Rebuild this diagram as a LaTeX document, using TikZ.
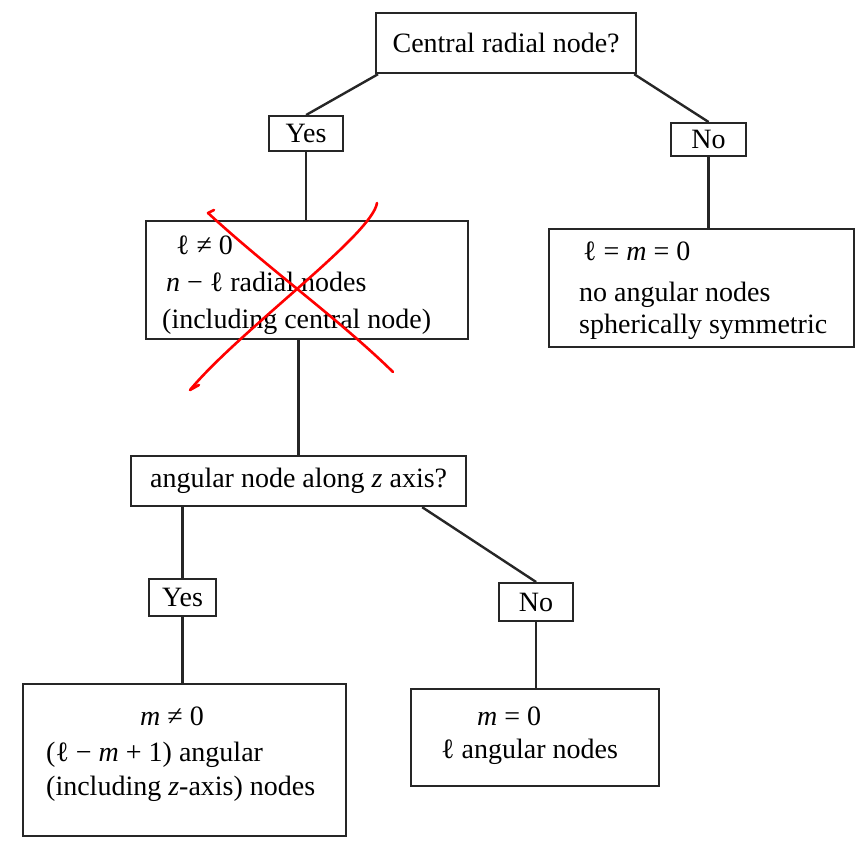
\documentclass[tikz,border=0pt]{standalone}
\usepackage{fontspec}
\setmainfont{Liberation Serif}
\begin{document}
\begin{tikzpicture}[x=1pt,y=-1pt,
  box/.style={draw=black!85,line width=2.2pt,inner sep=0pt,anchor=north west},
  lbl/.style={font=\fontsize{28}{36}\selectfont,inner sep=0pt},
  conn/.style={draw=black!85,line width=2.4pt},
  cross/.style={draw=red,line width=2.6pt,line cap=round,line join=round}]
\useasboundingbox (0,0) rectangle (855,841);
% boxes
\node[box,minimum width=260pt,minimum height=60pt] (top) at (375,12) {};
\node[lbl] (toptxt) at (top.center) {Central radial node?};
\node[box,minimum width=74pt,minimum height=35pt] (yes) at (268,115) {};
\node[lbl] (yestxt) at (yes.center) {Yes};
\node[box,minimum width=75pt,minimum height=33pt] (no) at (670,122) {};
\node[lbl] (notxt) at (no.center) {No};
\node[box,minimum width=322pt,minimum height=118pt] (b1) at (145,220) {};
\node[lbl,anchor=mid west] (b1a) at (176,252) {ℓ ≠ 0};
\node[lbl,anchor=mid west] (b1b) at (166,289) {\textit{n} − ℓ radial nodes};
\node[lbl,anchor=mid west] (b1c) at (162,326) {(including central node)};
\node[box,minimum width=305pt,minimum height=118pt] (b2) at (548,228) {};
\node[lbl,anchor=mid west] (b2a) at (583,258) {ℓ = \textit{m} = 0};
\node[lbl,anchor=mid west] (b2b) at (579,299) {no angular nodes};
\node[lbl,anchor=mid west] (b2c) at (579,331) {spherically symmetric};
\node[box,minimum width=335pt,minimum height=50pt] (ang) at (130,455) {};
\node[lbl] (angtxt) at (ang.center) {angular node along \textit{z} axis?};
\node[box,minimum width=67pt,minimum height=37pt] (yes2) at (148,578) {};
\node[lbl] (yes2txt) at (yes2.center) {Yes};
\node[box,minimum width=74pt,minimum height=38pt] (no2) at (498,582) {};
\node[lbl] (no2txt) at (no2.center) {No};
\node[box,minimum width=323pt,minimum height=152pt] (b3) at (22,683) {};
\node[lbl] (b3a) at (172,716) {\textit{m} ≠ 0};
\node[lbl,anchor=mid west] (b3b) at (46,759) {(ℓ − \textit{m} + 1) angular};
\node[lbl,anchor=mid west] (b3c) at (46,793) {(including \textit{z}-axis) nodes};
\node[box,minimum width=248pt,minimum height=97pt] (b4) at (410,688) {};
\node[lbl,anchor=mid west] (b4a) at (477,723) {\textit{m} = 0};
\node[lbl,anchor=mid west] (b4b) at (441,756) {ℓ angular nodes};
% connectors
\draw[conn] ([xshift=3pt]top.south west) -- (yes.north);
\draw[conn] ([xshift=-3pt]top.south east) -- (no.north);
\draw[conn] (yes.south) -- (yes.south |- b1.north);
\draw[conn] (no.south) -- (no.south |- b2.north);
\draw[conn] (ang.north |- b1.south) -- (ang.north);
\draw[conn] (yes2.north |- ang.south) -- (yes2.north);
\draw[conn] ([xshift=-45pt]ang.south east) -- (no2.north);
\draw[conn] (yes2.south) -- (yes2.south |- b3.north);
\draw[conn] (no2.south) -- (no2.south |- b4.north);
% red cross
\draw[cross] (214,210) -- (208,213) .. controls (270,270) and (340,320) .. (393,372);
\draw[cross] (377,203) .. controls (372,235) and (240,330) .. (190,390) -- (199,385);
\end{tikzpicture}
\end{document}
